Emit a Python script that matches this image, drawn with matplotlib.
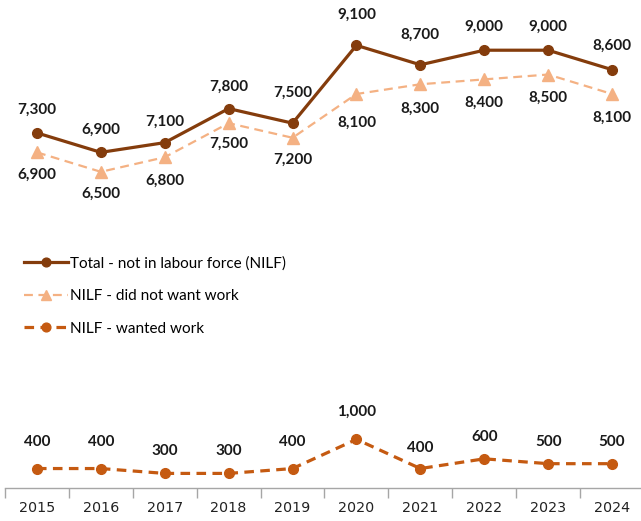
import matplotlib
matplotlib.use('Agg')
import matplotlib.pyplot as plt
import numpy as np

# data
years = ['2015', '2016', '2017', '2018', '2019', '2020', '2021', '2022', '2023', '2024']
total_nilf = [7300, 6900, 7100, 7800, 7500, 9100, 8700, 9000, 9000, 8600]
did_not_want = [6900, 6500, 6800, 7500, 7200, 8100, 8300, 8400, 8500, 8100]
wanted_work = [400, 400, 300, 300, 400, 1000, 400, 600, 500, 500]

series_names = ['Total - not in labour force (NILF)', 'NILF - did not want work', 'NILF - wanted work']

# label offsets in pixels (positive = above the point)
total_off = [23, 23, 21, 22, 30, 31, 30, 23, 23, 24]
dnw_off = [-22, -22, -24, -21, -22, -29, -25, -23, -23, -24]
wanted_off = [27, 27, 22, 22, 27, 28, 21, 22, 22, 22]

c_total = '#843C0C'
c_dnw = '#F4B183'
c_wanted = '#C55A11'

plt.rcParams['font.family'] = ['Lato', 'DejaVu Sans']

fig = plt.figure(figsize=(6.41, 5.21), dpi=100)
ax = fig.add_axes([5 / 641, 33 / 521, 639 / 641, 484 / 521])

x = np.arange(len(years))
l1, = ax.plot(x, total_nilf, color=c_total, lw=2.3, marker='o', ms=7, label=series_names[0])
l2, = ax.plot(x, did_not_want, color=c_dnw, lw=1.6, ls=(0, (4, 2.5)), marker='^', ms=8, label=series_names[1])
l3, = ax.plot(x, wanted_work, color=c_wanted, lw=2.3, ls=(0, (3, 2)), marker='o', ms=7, label=series_names[2])

pt = 72 / 100  # px -> points
for vals, offs in [(total_nilf, total_off), (did_not_want, dnw_off), (wanted_work, wanted_off)]:
    for i, (v, o) in enumerate(zip(vals, offs)):
        ax.annotate(f'{v:,}', (x[i], v), xytext=(0, o * pt), textcoords='offset points',
                    ha='center', va='center', fontsize=11, fontweight='bold', color='#1a1a1a')

ax.set_xlim(-0.5, len(years) - 0.5)
ax.set_ylim(0, 9950)
ax.set_yticks([])
for s in ['top', 'right', 'left']:
    ax.spines[s].set_visible(False)
ax.spines['bottom'].set_color('#A6A6A6')
ax.spines['bottom'].set_linewidth(1)

ax.set_xticks(x)
ax.set_xticklabels(years, fontfamily='DejaVu Sans', fontsize=10.3, color='#222222')
ax.tick_params(axis='x', which='major', length=0, pad=9)
ax.set_xticks(np.arange(-0.5, len(years), 1), minor=True)
ax.tick_params(axis='x', which='minor', length=7, color='#A6A6A6', width=1)

fig.legend(handles=[l1, l2, l3], loc='upper left', bbox_to_anchor=(18 / 641, 1 - 250 / 521),
           frameon=False, fontsize=11, handlelength=2.9, handletextpad=0.1,
           labelspacing=1.22, borderaxespad=0, markerscale=0.9)

fig.savefig('out.png', dpi=100)
